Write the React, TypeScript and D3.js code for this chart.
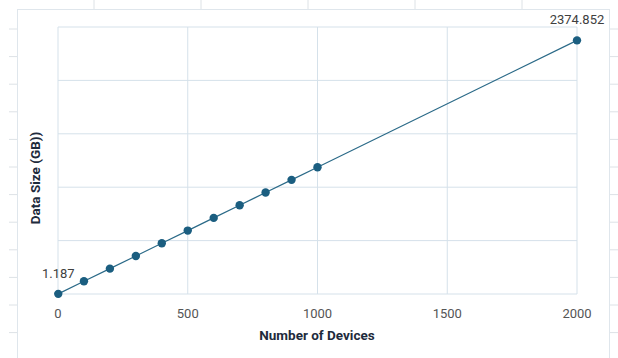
import React from "react";
import * as d3 from "d3";

const devices = [1, 100, 200, 300, 400, 500, 600, 700, 800, 900, 1000, 2000];
const dataSize = [1.187, 118.7, 237.5, 356.2, 475.0, 593.7, 712.5, 831.2, 949.9, 1068.7, 1187.4, 2374.852];
const xTicks = [0, 500, 1000, 1500, 2000];
const yTicks = [0, 500, 1000, 1500, 2000, 2500];
const labeledIdx = [0, 11];
const labelText = ["1.187", "2374.852"];

const W = 618;
const H = 358;

export default function App() {
  const x = d3.scaleLinear().domain([0, 2000]).range([58, 577]);
  const y = d3.scaleLinear().domain([0, 2500]).range([294, 27]);
  const line = d3
    .line<number>()
    .x((_, i) => x(devices[i]))
    .y((d) => y(d));

  const sheetRowYs = d3.range(29, 360, 27.6);
  const sheetColXs = [94, 201, 308, 415, 522];
  const grid = "#d5e1ea";
  const font = "Roboto, 'Liberation Sans', Arial, sans-serif";

  return (
    <svg
      width={W}
      height={H}
      style={{ position: "absolute", left: 0, top: 0, background: "#fff" }}
      fontFamily={font}
    >
      {/* spreadsheet background marks */}
      {sheetRowYs.map((yy, i) => (
        <g key={"r" + i}>
          <line x1={9} x2={17} y1={yy} y2={yy} stroke="#dde2e6" />
          <line x1={610} x2={618} y1={yy} y2={yy} stroke="#dde2e6" />
        </g>
      ))}
      {sheetColXs.map((xx, i) => (
        <line key={"c" + i} x1={xx} x2={xx} y1={0} y2={9} stroke="#dde2e6" />
      ))}
      {/* chart frame */}
      <rect x={17.5} y={9.5} width={592} height={360} fill="#fff" stroke="#dfe6ec" />

      {/* gridlines */}
      {yTicks.map((t) => (
        <line key={"gy" + t} x1={x(0)} x2={x(2000)} y1={y(t)} y2={y(t)} stroke={grid} strokeWidth={1} />
      ))}
      {xTicks.map((t) => (
        <line key={"gx" + t} x1={x(t)} x2={x(t)} y1={y(0)} y2={y(2500)} stroke={grid} strokeWidth={1} />
      ))}

      {/* x tick labels */}
      {xTicks.map((t) => (
        <text key={"tx" + t} x={x(t)} y={318} textAnchor="middle" fontSize={13} fill="#555">
          {t}
        </text>
      ))}

      {/* axis titles */}
      <text x={317} y={340} textAnchor="middle" fontSize={13.5} fontWeight="bold" fill="#1e2b3c">
        Number of Devices
      </text>
      <text
        transform={`translate(40,178) rotate(-90)`}
        textAnchor="middle"
        fontSize={13.5}
        fontWeight="bold"
        fill="#1e2b3c"
      >
        Data Size (GB))
      </text>

      {/* series */}
      <path d={line(dataSize) || ""} fill="none" stroke="#2b6a88" strokeWidth={1.2} />
      {dataSize.map((v, i) => (
        <circle key={"p" + i} cx={x(devices[i])} cy={y(v)} r={4.2} fill="#1b5e80" />
      ))}

      {/* data labels */}
      {labeledIdx.map((idx, k) => (
        <text
          key={"l" + k}
          x={x(devices[idx])}
          y={y(dataSize[idx]) - 16}
          textAnchor="middle"
          fontSize={13}
          fill="#404040"
        >
          {labelText[k]}
        </text>
      ))}
    </svg>
  );
}
